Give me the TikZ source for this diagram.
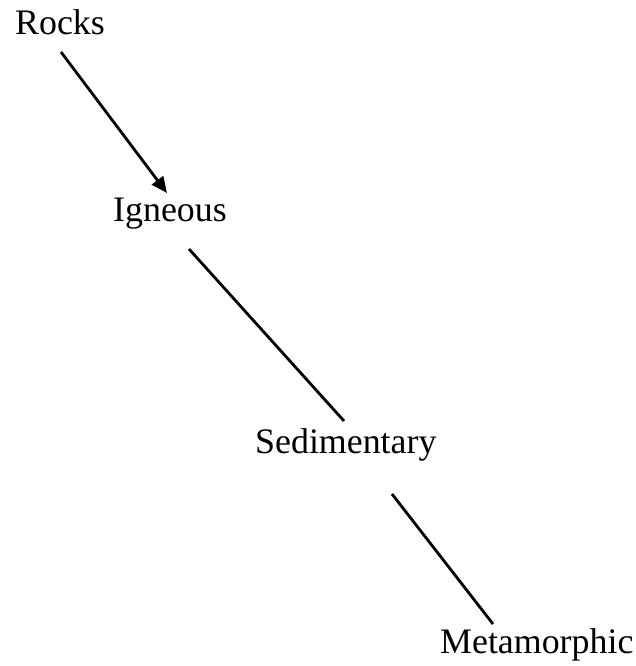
\documentclass[tikz,border=0pt]{standalone}
\usepackage{fontspec}
\setmainfont{Liberation Serif}
\usetikzlibrary{arrows.meta}
\tikzset{
  lbl/.style={anchor=base west, inner sep=0pt, font=\fontsize{36}{42}\selectfont},
  link/.style={line width=2.8bp, black},
  arr/.style={link, -{Triangle[length=16bp,width=14bp]}}
}
\begin{document}
\begin{tikzpicture}[x=1bp,y=-1bp]
\useasboundingbox (0,0) rectangle (636,666);
\node[lbl] (r) at (15,35) {Rocks};
\node[lbl] (i) at (113,221) {Igneous};
\node[lbl] (s) at (255,453) {Sedimentary};
\node[lbl] (m) at (440,653) {Metamorphic};
\draw[arr] ([shift={(46,17)}]r.base west) -- ([shift={(54,-28)}]i.base west);
\draw[link] ([shift={(76,28)}]i.base west) -- ([shift={(89,-32)}]s.base west);
\draw[link] ([shift={(137,41)}]s.base west) -- ([shift={(53,-29)}]m.base west);
\end{tikzpicture}
\end{document}
